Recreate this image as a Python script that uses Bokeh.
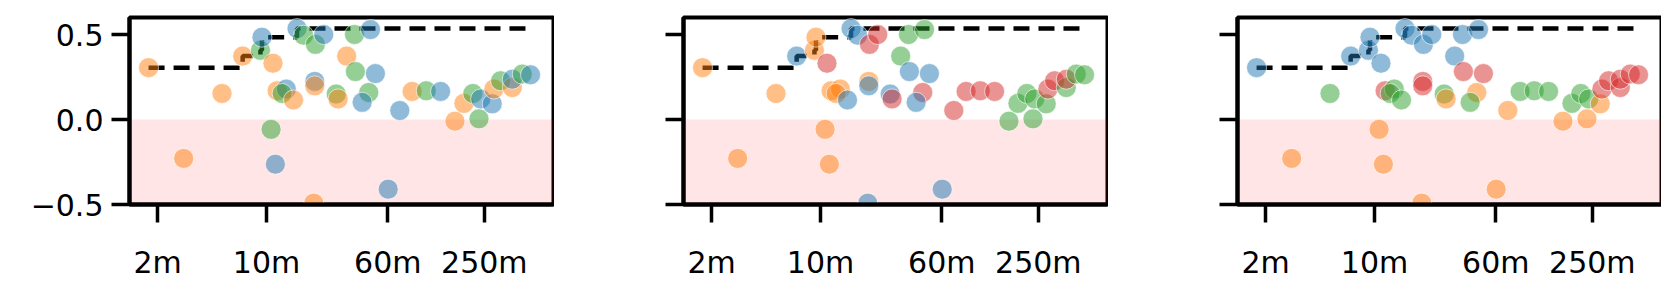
from bokeh.plotting import figure
from bokeh.layouts import row
from bokeh.models import Range1d, FixedTicker, ColumnDataSource, BoxAnnotation
from bokeh.embed import file_html
from bokeh.resources import INLINE
import numpy as np

# ---- data (time in minutes, score) ----
x_minutes = [1.75, 5.18, 2.94, 7.03, 9.14, 9.35, 11.0, 10.7, 11.4, 11.7,
             13.4, 12.6, 14.9, 15.7, 17.3, 20.6, 23.3, 20.4, 20.4, 20.1,
             28.0, 28.8, 32.7, 36.7, 46.5, 37.2, 50.0, 45.3, 41.1, 71.7,
             60.4, 86.0, 106, 131, 162, 185, 211, 231, 237, 281,
             288, 318, 378, 378, 438, 495]
y_score = [0.305, 0.153, -0.229, 0.373, 0.407, 0.484, 0.331, -0.058, -0.263, 0.169,
           0.179, 0.153, 0.115, 0.535, 0.496, 0.442, 0.500, 0.224, 0.198, -0.492,
           0.150, 0.121, 0.373, 0.500, 0.529, 0.282, 0.270, 0.159, 0.101, 0.053,
           -0.410, 0.165, 0.169, 0.165, -0.010, 0.095, 0.153, 0.004, 0.121, 0.092,
           0.179, 0.228, 0.188, 0.237, 0.267, 0.263]
# category of each point in each of the three panels
group_panel1 = ["C1", "C1", "C1", "C1", "C2", "C0", "C1", "C2", "C0", "C1",
                "C0", "C2", "C1", "C0", "C2", "C2", "C0", "C0", "C1", "C1",
                "C2", "C1", "C1", "C2", "C0", "C2", "C0", "C2", "C0", "C0",
                "C0", "C1", "C2", "C0", "C1", "C1", "C2", "C2", "C0", "C0",
                "C1", "C2", "C1", "C0", "C2", "C0"]
group_panel2 = ["C1", "C1", "C1", "C0", "C1", "C1", "C3", "C1", "C1", "C1",
                "C1", "C1", "C0", "C0", "C0", "C3", "C3", "C1", "C0", "C0",
                "C0", "C3", "C2", "C2", "C2", "C0", "C0", "C3", "C0", "C3",
                "C0", "C3", "C3", "C3", "C2", "C2", "C2", "C2", "C2", "C2",
                "C3", "C3", "C2", "C3", "C2", "C2"]
group_panel3 = ["C0", "C2", "C1", "C0", "C0", "C0", "C0", "C1", "C1", "C3",
                "C2", "C2", "C2", "C0", "C0", "C0", "C0", "C3", "C3", "C1",
                "C2", "C1", "C0", "C0", "C0", "C3", "C3", "C1", "C2", "C1",
                "C1", "C2", "C2", "C2", "C1", "C2", "C2", "C1", "C2", "C1",
                "C3", "C3", "C3", "C3", "C3", "C3"]
palette = {"C0": "#1f77b4", "C1": "#ff7f0e", "C2": "#2ca02c", "C3": "#d62728"}

x_ticks = [2, 10, 60, 250]
x_tick_labels = ["2m", "10m", "60m", "250m"]
y_ticks = [-0.5, 0.0, 0.5]
y_tick_labels = ["\u22120.5", "0.0", "0.5"]

FONT = "DejaVu Sans"

# best-so-far (running maximum) along time
order = np.argsort(x_minutes)
xs_sorted = np.array(x_minutes)[order]
best = np.maximum.accumulate(np.array(y_score)[order])


def make_panel(groups, show_labels):
    p = figure(x_axis_type="log", output_backend="svg", toolbar_location=None,
               frame_width=424, frame_height=187,
               min_border_left=129, min_border_right=1,
               min_border_top=17, min_border_bottom=80,
               x_range=Range1d(1.32, 695), y_range=Range1d(-0.5, 0.6))
    p.grid.visible = False
    p.background_fill_color = "white"
    p.border_fill_color = "white"
    p.outline_line_color = "black"
    p.outline_line_width = 4
    p.outline_line_alpha = 1.0

    p.add_layout(BoxAnnotation(bottom=-0.5, top=0.0, fill_color="red",
                               fill_alpha=0.1, line_color=None, level="underlay"))

    p.step(xs_sorted, best, mode="after", line_color="black", line_width=4.5,
           line_dash="16 9")

    src = ColumnDataSource(dict(x=x_minutes, y=y_score,
                                c=[palette[g] for g in groups]))
    p.scatter("x", "y", source=src, size=20, fill_color="c", fill_alpha=0.5,
              line_color="white", line_alpha=0.6, line_width=1)

    for ax in (p.xaxis[0], p.yaxis[0]):
        ax.axis_line_color = "black"
        ax.axis_line_width = 4
        ax.major_tick_line_color = "black"
        ax.major_tick_line_width = 3.5
        ax.major_tick_out = 18
        ax.major_tick_in = 0
        ax.minor_tick_line_color = None
        ax.major_label_text_font = FONT
        ax.major_label_text_font_size = "30px"
        ax.major_label_text_color = "black"

    p.xaxis.ticker = FixedTicker(ticks=x_ticks)
    p.xaxis.major_label_overrides = {t: l for t, l in zip(x_ticks, x_tick_labels)}
    p.xaxis.major_label_standoff = 22
    p.yaxis.ticker = FixedTicker(ticks=y_ticks)
    p.yaxis.major_label_overrides = {t: l for t, l in zip(y_ticks, y_tick_labels)}
    p.yaxis.major_label_standoff = 8
    if not show_labels:
        p.yaxis.major_label_text_color = None
    return p


p1 = make_panel(group_panel1, True)
p2 = make_panel(group_panel2, False)
p3 = make_panel(group_panel3, False)
layout = row(p1, p2, p3, spacing=0)

open("out.html", "w").write(file_html(layout, INLINE))
